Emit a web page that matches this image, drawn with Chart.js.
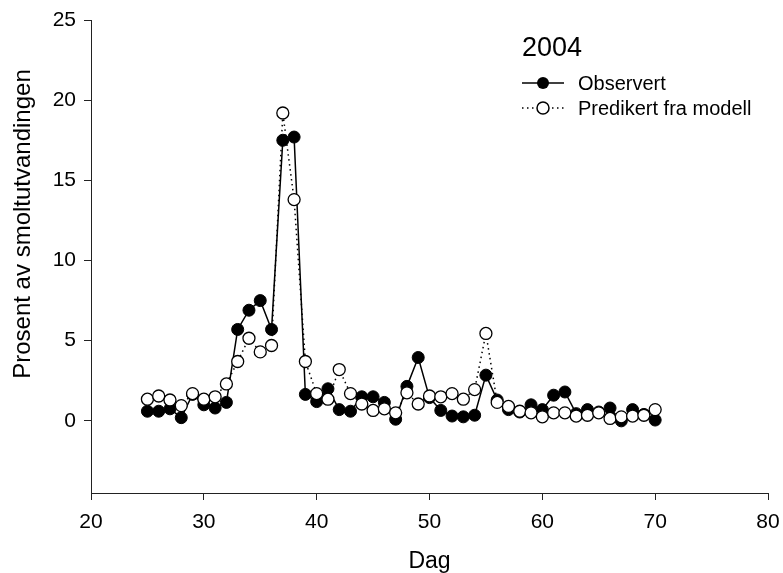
<!DOCTYPE html>
<html lang="no">
<head>
    <meta charset="UTF-8">
    <title>2004</title>
    <style>
        *{
            margin:0;
            padding:0;
        }
        body{
            width: 783px;
            height: 573px;
            background: white;
            overflow: hidden;
        }
    </style>
</head>
<body>
    <canvas id="smoltChart" width="783" height="573"></canvas>
    <script src="https://cdn.jsdelivr.net/npm/chart.js@4.4.1/dist/chart.umd.min.js"></script>
    <script>
        // dag (x) og prosent av smoltutvandringen (y)
        const days = [25, 26, 27, 28, 29, 30, 31, 32, 33, 34, 35, 36, 37, 38, 39, 40,
                      41, 42, 43, 44, 45, 46, 47, 48, 49, 50, 51, 52, 53, 54, 55, 56,
                      57, 58, 59, 60, 61, 62, 63, 64, 65, 66, 67, 68, 69, 70];
        const observert = [0.6, 0.6, 0.75, 0.2, 1.65, 1.0, 0.8, 1.15, 5.7, 6.9, 7.5, 5.7, 17.5, 17.7, 1.65, 1.2,
                           2.0, 0.7, 0.6, 1.5, 1.5, 1.15, 0.1, 2.15, 3.95, 1.45, 0.65, 0.3, 0.25, 0.35, 2.85, 1.3,
                           0.7, 0.55, 1.0, 0.7, 1.6, 1.8, 0.45, 0.7, 0.55, 0.8, 0.0, 0.7, 0.4, 0.05];
        const predikert = [1.35, 1.55, 1.3, 0.95, 1.7, 1.35, 1.5, 2.3, 3.7, 5.15, 4.3, 4.7, 19.2, 13.8, 3.7, 1.7,
                           1.35, 3.2, 1.7, 1.05, 0.65, 0.75, 0.5, 1.75, 1.05, 1.55, 1.5, 1.7, 1.35, 1.95, 5.45, 1.15,
                           0.9, 0.6, 0.5, 0.25, 0.5, 0.5, 0.3, 0.35, 0.5, 0.15, 0.25, 0.3, 0.35, 0.7];
        const yTicks = [0, 5, 10, 15, 20, 25];
        const xTicks = [20, 30, 40, 50, 60, 70, 80];

        const FONT = "'Liberation Sans', Arial, sans-serif";

        function pts(ys){
            return days.map((d, i) => ({x: d, y: ys[i]}));
        }

        // y-tittel, årstall og forklaring
        const legendPlugin = {
            id: 'legendBox',
            afterDraw(chart){
                const ctx = chart.ctx;
                ctx.save();
                ctx.fillStyle = 'black';

                // y-aksens tittel, litt over midten som i originalen
                ctx.save();
                ctx.translate(23, 224);
                ctx.rotate(-Math.PI / 2);
                ctx.textAlign = 'center';
                ctx.textBaseline = 'middle';
                ctx.font = '24px ' + FONT;
                ctx.fillText('Prosent av smoltutvandingen', 0, 0);
                ctx.restore();

                ctx.textBaseline = 'alphabetic';
                ctx.font = '27px ' + FONT;
                ctx.fillText('2004', 522, 56);

                ctx.font = '20px ' + FONT;
                ctx.strokeStyle = 'black';
                // Observert
                ctx.lineWidth = 1.5;
                ctx.beginPath();
                ctx.moveTo(522, 83);
                ctx.lineTo(564, 83);
                ctx.stroke();
                ctx.beginPath();
                ctx.arc(543, 83, 6, 0, Math.PI * 2);
                ctx.fill();
                ctx.fillText('Observert', 578, 90);
                // Predikert
                ctx.setLineDash([1.5, 3.5]);
                ctx.beginPath();
                ctx.moveTo(522, 108);
                ctx.lineTo(564, 108);
                ctx.stroke();
                ctx.setLineDash([]);
                ctx.fillStyle = 'white';
                ctx.beginPath();
                ctx.arc(543, 108, 6, 0, Math.PI * 2);
                ctx.fill();
                ctx.stroke();
                ctx.fillStyle = 'black';
                ctx.fillText('Predikert fra modell', 578, 115);
                ctx.restore();
            }
        };

        const ctx = document.getElementById('smoltChart').getContext('2d');
        const smoltChart = new Chart(ctx, {
            type: 'scatter',
            data: {
                datasets: [{
                    label: 'Observert',
                    data: pts(observert),
                    showLine: true,
                    borderColor: 'black',
                    borderWidth: 1.5,
                    backgroundColor: 'black',
                    pointBackgroundColor: 'black',
                    pointBorderColor: 'black',
                    pointBorderWidth: 1,
                    pointRadius: 6,
                    order: 2,
                },{
                    label: 'Predikert fra modell',
                    data: pts(predikert),
                    showLine: true,
                    borderColor: 'black',
                    borderWidth: 1.5,
                    borderDash: [1.5, 3.5],
                    backgroundColor: 'white',
                    pointBackgroundColor: 'white',
                    pointBorderColor: 'black',
                    pointBorderWidth: 1.3,
                    pointRadius: 6,
                    order: 1,
                }]
            },
            options: {
                responsive: false,
                animation: false,
                layout: {
                    padding: {left: 0, top: 20, right: 15, bottom: 0}
                },
                plugins: {
                    legend: {display: false},
                    tooltip: {enabled: false},
                },
                scales: {
                    x: {
                        type: 'linear',
                        min: 20,
                        max: 80,
                        afterBuildTicks: (s) => { s.ticks = xTicks.map(v => ({value: v})); },
                        afterFit: (s) => { s.height = 80; s.paddingLeft = 0; s.paddingRight = 0; },
                        ticks: {
                            color: 'black',
                            font: {size: 21, family: FONT},
                            padding: 10,
                            maxRotation: 0,
                        },
                        grid: {
                            drawOnChartArea: false,
                            tickLength: 7,
                            color: '#222',
                        },
                        border: {color: '#222', width: 1},
                        title: {
                            display: true,
                            text: 'Dag',
                            color: 'black',
                            font: {size: 23, family: FONT},
                            padding: {top: 0, bottom: -2},
                        }
                    },
                    y: {
                        type: 'linear',
                        min: -4.5,
                        max: 25,
                        afterBuildTicks: (s) => { s.ticks = yTicks.map(v => ({value: v})); },
                        afterFit: (s) => { s.width = 91; s.paddingTop = 0; s.paddingBottom = 0; },
                        ticks: {
                            color: 'black',
                            font: {size: 21, family: FONT},
                            padding: 8,
                        },
                        grid: {
                            drawOnChartArea: false,
                            tickLength: 7,
                            color: '#222',
                        },
                        border: {color: '#222', width: 1},
                    }
                }
            },
            plugins: [legendPlugin]
        });
    </script>
</body>
</html>
